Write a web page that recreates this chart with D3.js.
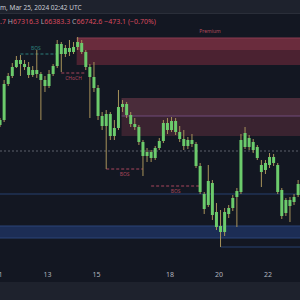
<!DOCTYPE html>
<html>
<head>
<meta charset="utf-8">
<script src="https://cdn.jsdelivr.net/npm/d3@7"></script>
<style>
  html, body { margin: 0; padding: 0; background: #131722; }
  svg { display: block; font-family: "Noto Sans", sans-serif; }
</style>
</head>
<body>
<svg id="chart" width="300" height="300"></svg>
<script>
// 4h candles, BTC-like
const firstBar = '2024-03-11T00:00:00Z';
const open = [68500,68800,70960,71440,71980,72400,72160,71980,71500,71800,71560,71200,70840,71560,72040,73360,72760,73120,72880,73180,
  73420,72880,71980,71380,70720,69040,68440,69160,67840,68320,69580,69760,69100,68560,68380,67480,66640,66880,66520,67120,
  67540,68620,68200,68740,68080,67660,67240,67600,67360,66040,64360,63700,65020,63280,62440,62080,63160,63520,64180,64480,
  67180,67720,67480,67180,66100,65800,66100,66580,66100,64600,63220,64000,63880,64300];
const high = [68920,71200,71620,72220,72640,72700,72400,72280,72040,73000,71680,71440,71800,72160,73600,73480,73300,73600,73480,73780,
  73600,73000,72160,72280,70900,69280,69400,69280,68800,70600,70000,69880,69280,68920,68500,67600,67120,67000,67240,67720,
  68800,68920,68980,68920,68440,68200,67780,67960,67480,66220,64480,66100,65200,63820,63400,63520,63700,64300,64720,67960,
  68380,67900,67660,67300,66400,66400,66820,66760,66220,64720,64120,64180,64360,65200];
const low = [68380,68680,70840,71320,71920,71440,71800,71320,71380,71320,68800,70480,70720,71440,71920,71680,72580,72640,72760,73000,
  72760,71800,68920,70480,68800,68200,65860,67600,67600,68200,69280,68920,68380,68200,67300,65440,66280,66280,66400,67000,
  67420,67960,68080,67900,67480,67000,67060,67180,65920,64360,63160,63580,62800,62200,61180,61840,62920,63340,62380,64360,
  67060,67000,66820,66400,64780,65560,65920,66040,64360,62860,63040,62680,63700,64180];
const close = [68800,70960,71440,71980,72400,72160,71980,71500,71800,71560,71200,70840,71560,72040,73360,72760,73120,72880,73180,73480,
  72880,71980,71380,70720,69040,68440,69160,67840,68320,69580,69760,69100,68560,68380,67480,66640,66880,66520,67120,67540,
  68620,68200,68740,68080,67660,67240,67600,67360,66040,64480,63460,65140,63100,62380,62080,63280,63520,64120,64540,67600,
  68020,67180,67000,66520,65680,66220,66580,66220,64480,63040,64000,63640,64180,64960];

const dayTicks = ['2024-03-11', '2024-03-13', '2024-03-15', '2024-03-18', '2024-03-20', '2024-03-22'];

// zones: [top, split, bottom], starting at a candle index
const premiumZone = [73720, 73000, 72100];
const premiumStart = 19;
const supplyZone = [70120, 69040, 67840];
const supplyStart = 30;
const demandZone = [62440, 61720];
const equilibrium = 66940;
const blueLevel = 64360;
const swingLow = 61180;
const swingLowStart = 54;

// structure breaks: label, price, from candle, to candle
const breaks = [
  ['BOS', 72760, 5, 14],
  ['CHoCH', 71620, 15, 21],
  ['BOS', 65860, 26, 35],
  ['BOS', 64840, 37, 49]
];

const header = 'm, Mar 25, 2024 02:42 UTC';

const W = 300, H = 300;
const svg = d3.select('#chart');

const t0 = new Date(firstBar);
const times = open.map((d, i) => d3.utcHour.offset(t0, 4 * i + 2));

const x = d3.scaleUtc()
  .domain([new Date('2024-03-11T00:00:00Z'), new Date('2024-03-23T00:00:00Z')])
  .range([-2, 292]);
const y = d3.scaleLinear().domain([76000, 58000]).range([0, 300]);

svg.append('rect').attr('width', W).attr('height', H).attr('fill', '#131722');

// header
svg.append('rect').attr('width', W).attr('height', 13).attr('fill', '#1e222d');
svg.append('line').attr('x1', 0).attr('x2', W).attr('y1', 13.5).attr('y2', 13.5)
  .attr('stroke', '#2a2e39');

const plot = svg.append('g');
plot.append('clipPath').attr('id', 'clip')
  .append('rect').attr('x', 0).attr('y', 14).attr('width', W).attr('height', 268);
const g = plot.append('g').attr('clip-path', 'url(#clip)');

// premium zone
const px0 = x(times[premiumStart]) - 1;
g.append('rect').attr('x', px0).attr('y', y(premiumZone[0]))
  .attr('width', W - px0).attr('height', y(premiumZone[1]) - y(premiumZone[0]))
  .attr('fill', '#6a2c3d');
g.append('rect').attr('x', px0).attr('y', y(premiumZone[1]))
  .attr('width', W - px0).attr('height', y(premiumZone[2]) - y(premiumZone[1]))
  .attr('fill', '#4b2231');
g.append('line').attr('x1', px0).attr('x2', W)
  .attr('y1', y(premiumZone[0])).attr('y2', y(premiumZone[0]))
  .attr('stroke', '#8a3a50').attr('stroke-width', 1);

// supply zone
const sx0 = x(times[supplyStart]) - 1;
g.append('rect').attr('x', sx0).attr('y', y(supplyZone[0]))
  .attr('width', W - sx0).attr('height', y(supplyZone[1]) - y(supplyZone[0]))
  .attr('fill', '#4a2c3a');
g.append('rect').attr('x', sx0).attr('y', y(supplyZone[1]))
  .attr('width', W - sx0).attr('height', y(supplyZone[2]) - y(supplyZone[1]))
  .attr('fill', '#3a2330');
g.append('line').attr('x1', sx0).attr('x2', W)
  .attr('y1', y(supplyZone[1])).attr('y2', y(supplyZone[1]))
  .attr('stroke', '#6e4a7a').attr('stroke-width', 1.2);

// demand band
g.append('rect').attr('x', 0).attr('y', y(demandZone[0]))
  .attr('width', W).attr('height', y(demandZone[1]) - y(demandZone[0]))
  .attr('fill', '#1c2d55');
[demandZone[0], demandZone[1]].forEach(p => {
  g.append('line').attr('x1', 0).attr('x2', W).attr('y1', y(p)).attr('y2', y(p))
    .attr('stroke', '#2b4478').attr('stroke-width', 1);
});

// levels
g.append('line').attr('x1', 0).attr('x2', W)
  .attr('y1', y(equilibrium)).attr('y2', y(equilibrium))
  .attr('stroke', '#5d606b').attr('stroke-dasharray', '2,2');
g.append('line').attr('x1', 0).attr('x2', W)
  .attr('y1', y(blueLevel)).attr('y2', y(blueLevel))
  .attr('stroke', '#26406f').attr('stroke-width', 1.2);
g.append('line').attr('x1', x(times[swingLowStart])).attr('x2', W)
  .attr('y1', y(swingLow)).attr('y2', y(swingLow))
  .attr('stroke', '#26406f').attr('stroke-width', 1.2);

// structure lines + labels
breaks.forEach(([label, price, a, b], i) => {
  const col = i === 0 ? '#2c7f7a' : '#a8465c';
  const xa = x(times[a]), xb = x(times[b]);
  g.append('line').attr('x1', xa).attr('x2', xb)
    .attr('y1', y(price)).attr('y2', y(price))
    .attr('stroke', col).attr('stroke-dasharray', '3,2');
  g.append('text')
    .attr('x', (xa + xb) / 2 - (i === 0 ? 3 : 0))
    .attr('y', i === 0 ? y(price) - 4 : y(price) + 7)
    .attr('text-anchor', 'middle')
    .attr('font-size', 5)
    .attr('fill', col)
    .text(label);
});

// candles
const candles = g.append('g').selectAll('g')
  .data(open.map((o, i) => ({ t: times[i], o, h: high[i], l: low[i], c: close[i] })))
  .join('g');

candles.append('line')
  .attr('x1', d => x(d.t)).attr('x2', d => x(d.t))
  .attr('y1', d => y(d.h)).attr('y2', d => y(d.l))
  .attr('stroke', '#a8935a').attr('stroke-width', 1);

candles.append('rect')
  .attr('x', d => x(d.t) - 1.5)
  .attr('width', 3)
  .attr('y', d => y(Math.max(d.o, d.c)))
  .attr('height', d => Math.max(1, Math.abs(y(d.o) - y(d.c))))
  .attr('fill', '#6ccb6c');

// premium label
g.append('text')
  .attr('x', 210).attr('y', y(premiumZone[0]) - 5)
  .attr('text-anchor', 'middle')
  .attr('font-size', 5)
  .attr('fill', '#b24a5c')
  .text('Premium');

// header texts
svg.append('text').attr('x', 0).attr('y', 9.5)
  .attr('font-size', 6.5).attr('fill', '#c9ccd4')
  .text(header);

const ohlc = svg.append('text').attr('x', 0).attr('y', 23.5).attr('font-size', 7);
const red = '#d84a5e', grey = '#a3a6af';
[['.7', red], [' H', grey], ['67316.3', red], [' L', grey], ['66383.3', red],
 [' C', grey], ['66742.6', red], [' \u2212473.1 (\u22120.70%)', red]]
  .forEach(([s, c]) => ohlc.append('tspan').attr('fill', c).text(s));

// bottom strip + axis
svg.append('rect').attr('y', 282).attr('width', W).attr('height', 18).attr('fill', '#1e222d');

const axis = d3.axisBottom(x)
  .tickValues(dayTicks.map(d => new Date(d + 'T00:00:00Z')))
  .tickFormat(d3.utcFormat('%-d'))
  .tickSize(0)
  .tickPadding(0);

svg.append('g')
  .attr('transform', 'translate(0,272)')
  .call(axis)
  .call(s => s.select('.domain').remove())
  .call(s => s.selectAll('text')
    .attr('fill', '#b2b5be')
    .attr('font-size', 7)
    .attr('font-family', '"Noto Sans", sans-serif'));
</script>
</body>
</html>
